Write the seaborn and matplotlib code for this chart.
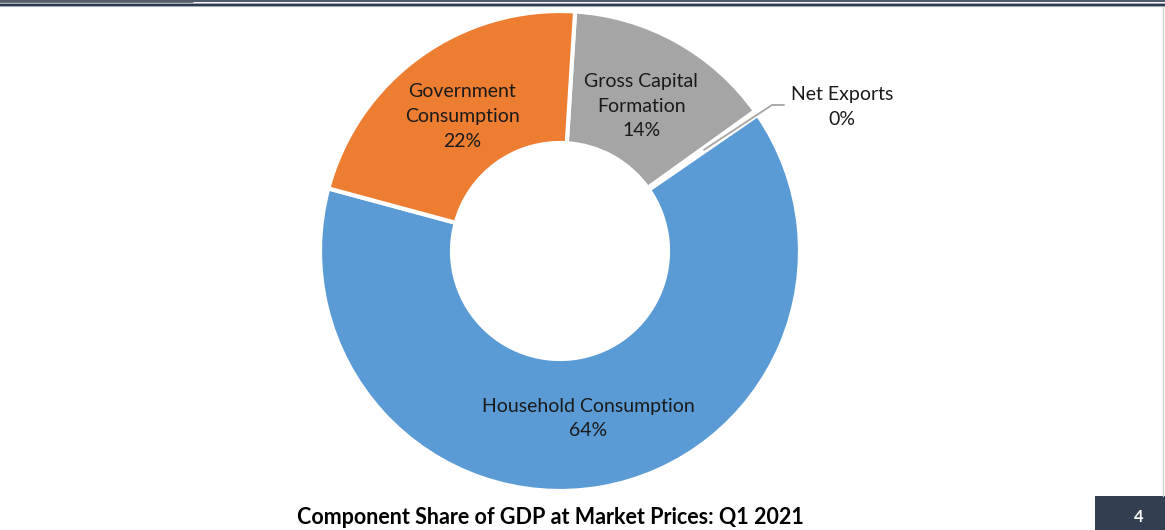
import numpy as np
import matplotlib
matplotlib.use("Agg")
import matplotlib.pyplot as plt
from matplotlib.lines import Line2D
from matplotlib.patches import Rectangle
import seaborn as sns

# GDP components (share of GDP at market prices, %)
components = ["Gross Capital\nFormation", "Net Exports", "Household Consumption", "Government\nConsumption"]
shares = [14.1, 0.3, 63.8, 21.8]
colors = ["#A5A5A5", "#FFC000", "#5B9BD5", "#ED7D31"]
title = "Component Share of GDP at Market Prices: Q1 2021"
page_number = "4"

sns.set_theme(style="white")
plt.rcParams["font.family"] = ["Lato", "DejaVu Sans"]

W, H = 1165, 530
fig = plt.figure(figsize=(W / 100, H / 100), dpi=100)
ax = fig.add_axes([0, 0, 1, 1])

cx, cy, R = 560, H - 251, 240
wedges, _ = ax.pie(
    shares, colors=colors, startangle=86.4, counterclock=False,
    center=(cx, cy), radius=R, frame=True,
    wedgeprops=dict(width=R * 0.55, edgecolor="white", linewidth=3),
)
ax.set_xlim(0, W)
ax.set_ylim(0, H)
ax.axis("off")

txt_kw = dict(ha="center", va="center", fontsize=14, color="#1a1a1a", linespacing=1.55)
for w, name, val in zip(wedges, components, shares):
    theta = np.deg2rad((w.theta1 + w.theta2) / 2)
    label = f"{name}\n{val:.0f}%"
    if val < 1:
        # tiny slice: label outside with a leader line
        r0 = 176
        x0 = cx + r0 * np.cos(theta)
        y0 = cy + r0 * np.sin(theta)
        ax.plot([x0, 772, 784], [y0, H - 105, H - 105], color="#A5A5A5", lw=1.3)
        ax.text(842, H - 107, label, **txt_kw)
    else:
        r = 0.70 * R
        ax.text(cx + r * np.cos(theta), cy + r * np.sin(theta) - 2, label, **txt_kw)

ax.text(550, H - 517, title, ha="center", va="center", fontsize=15.5,
        fontweight="bold", color="#000000")

# page decorations
fig.add_artist(Line2D([0, 1], [1 - 0.6 / H] * 2, color="#2E3B4E", lw=1.2))
fig.add_artist(Line2D([0, 192 / W], [1 - 1.0 / H] * 2, color="#555E69", lw=2.0))
fig.add_artist(Line2D([0, 1], [1 - 5 / H] * 2, color="#A9B1BA", lw=3.0))
fig.add_artist(Line2D([0, 1], [1 - 5 / H] * 2, color="#2E3B4E", lw=1.5))
fig.add_artist(Line2D([1163 / W] * 2, [1 - 7 / H, 1 - 496 / H], color="#D0D0D0", lw=1.0))
fig.add_artist(Rectangle((1095 / W, 0), 70 / W, 34 / H, transform=fig.transFigure,
                         facecolor="#333F50", edgecolor="none"))
fig.text(1139 / W, 1 - 517 / H, page_number, ha="center", va="center",
         fontsize=12, fontweight="bold", color="white")

fig.savefig("out.png", dpi=100, facecolor="white")
